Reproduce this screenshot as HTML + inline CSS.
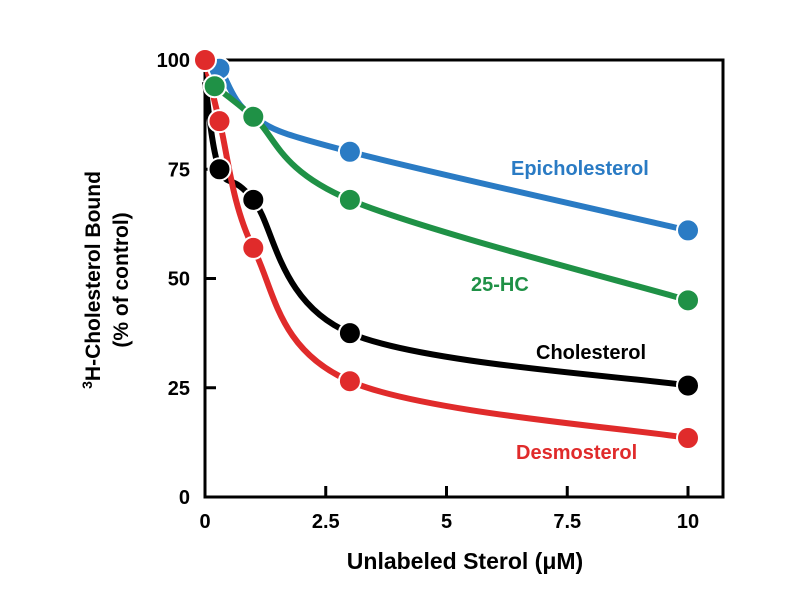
<!DOCTYPE html>
<html><head><meta charset="utf-8"><style>
body{margin:0;background:#fff;}
svg text{font-family:"Liberation Sans",Arial,sans-serif;font-weight:bold;}
</style></head><body>
<svg width="800" height="600" id="c">
<rect x="205" y="60" width="518" height="437" fill="none" stroke="#000" stroke-width="3"/>
<g id="axes"></g><g id="series"></g>
<text x="0" y="0" transform="translate(100,280) rotate(-90)" text-anchor="middle" font-size="21"><tspan font-size="14" dy="-8">3</tspan><tspan dy="8">H-Cholesterol Bound</tspan></text>
<text x="0" y="0" transform="translate(128,280) rotate(-90)" text-anchor="middle" font-size="21">(% of control)</text>
<text x="465" y="569" text-anchor="middle" font-size="23">Unlabeled Sterol (μM)</text>
<text x="511" y="175" font-size="20" fill="#2a7bc4">Epicholesterol</text>
<text x="471" y="291" font-size="20" fill="#1f9146">25-HC</text>
<text x="536" y="359" font-size="20" fill="#000">Cholesterol</text>
<text x="516" y="459" font-size="20" fill="#e02b2b">Desmosterol</text>
</svg>
<script>
const xTicks=[0,2.5,5,7.5,10];
const xTickLabels=["0","2.5","5","7.5","10"];
const yTicks=[0,25,50,75,100];
const yTickLabels=["0","25","50","75","100"];
const epiX=[0,0.3,1,3,10];
const epiY=[100,98,87,79,61];
const hcX=[0.2,1,3,10];
const hcY=[94,87,68,45];
const cholX=[0,0.3,1,3,10];
const cholY=[95,75,68,37.5,25.5];
const desX=[0,0.3,1,3,10];
const desY=[100,86,57,26.5,13.5];
const seriesOrder=["epi","chol","hc","des"];
const NS="http://www.w3.org/2000/svg";
const sx=v=>205+v*48.3;
const sy=v=>497-v*4.37;
const axes=document.getElementById('axes');
function mk(tag,attrs,parent){const e=document.createElementNS(NS,tag);for(const k in attrs)e.setAttribute(k,attrs[k]);parent.appendChild(e);return e;}
xTicks.forEach((t,i)=>{
  const l=mk('line',{x1:sx(t),x2:sx(t),y1:497,y2:486,stroke:'#000','stroke-width':3},axes);
  
  
  const tx=mk('text',{x:sx(t),y:528,'text-anchor':'middle','font-size':20},axes);
  tx.textContent=xTickLabels[i];
  
  
});
yTicks.forEach((t,i)=>{
  const l=mk('line',{x1:205,x2:216,y1:sy(t),y2:sy(t),stroke:'#000','stroke-width':3},axes);
  
  
  const tx=mk('text',{x:190,y:sy(t)+7,'text-anchor':'end','font-size':20},axes);
  tx.textContent=yTickLabels[i];
  
  
});
function path(xs,ys){
  const p=xs.map((x,i)=>[sx(x),sy(ys[i])]);
  let d='M'+p[0][0]+','+p[0][1];
  for(let i=0;i<p.length-1;i++){
    const p0=p[i-1]||p[i],p1=p[i],p2=p[i+1],p3=p[i+2]||p2;
    const c1=[p1[0]+(p2[0]-p0[0])/6,p1[1]+(p2[1]-p0[1])/6];
    const c2=[p2[0]-(p3[0]-p1[0])/6,p2[1]-(p3[1]-p1[1])/6];
    d+=` C${c1[0]},${c1[1]} ${c2[0]},${c2[1]} ${p2[0]},${p2[1]}`;
  }
  return d;
}
const g=document.getElementById('series');
const S={epi:[epiX,epiY,'#2a7bc4'],hc:[hcX,hcY,'#1f9146'],chol:[cholX,cholY,'#000'],des:[desX,desY,'#e02b2b']};
seriesOrder.forEach(k=>{
  const [xs,ys,c]=S[k];
  const p=mk('path',{d:path(xs,ys),fill:'none',stroke:c,'stroke-width':6},g);
  
  
});
seriesOrder.forEach(k=>{
  const [xs,ys,c]=S[k];
  xs.forEach((x,i)=>{
    if(k==='chol'&&x===0)return;
    const m=mk('circle',{cx:sx(x),cy:sy(ys[i]),r:11,fill:c,stroke:'#fff','stroke-width':2},g);
    
    
  });
});
</script>
</body></html>
